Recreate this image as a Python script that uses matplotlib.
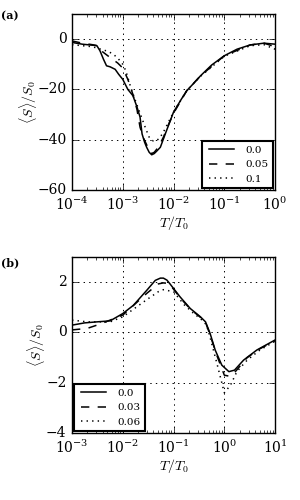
import numpy as np
import matplotlib.pyplot as plt

plt.style.use('classic')
plt.rcParams['font.family'] = 'serif'
plt.rcParams['font.serif'] = ['DejaVu Serif']
plt.rcParams['mathtext.fontset'] = 'cm'

# panel (a): log10(T/T0) and <S>/S0
a_logT_0 = [-4.0, -3.8, -3.6, -3.51, -3.45, -3.38, -3.32, -3.25, -3.15, -3.08, -3.0,
            -2.9, -2.8, -2.72, -2.66, -2.62, -2.57, -2.53, -2.48, -2.43, -2.38, -2.33,
            -2.26, -2.15, -2.0, -1.85, -1.74, -1.6, -1.47, -1.25, -1.0, -0.75, -0.49,
            -0.22, 0.0]
a_S_0 = [-1.3, -2.0, -2.4, -2.6, -4.6, -8.0, -10.6, -11.0, -12.0, -14.0, -16.0,
         -20.0, -22.5, -27.0, -31.0, -37.7, -41.0, -43.0, -45.0, -46.0, -45.5, -44.5,
         -43.0, -37.0, -29.0, -24.0, -20.5, -17.5, -14.6, -10.3, -6.6, -4.0, -2.3,
         -1.6, -2.0]

a_logT_05 = [-4.0, -3.8, -3.6, -3.5, -3.4, -3.25, -3.1, -3.0, -2.9, -2.8, -2.72,
             -2.66, -2.6, -2.53, -2.48, -2.43, -2.38, -2.3, -2.2, -2.1, -2.0, -1.74,
             -1.47, -1.0, -0.49, -0.22, 0.0]
a_S_05 = [-0.7, -1.6, -2.2, -2.6, -5.0, -7.3, -9.5, -11.5, -16.0, -22.0, -28.0,
          -35.0, -39.0, -42.0, -44.5, -45.5, -45.0, -43.0, -39.0, -34.0, -29.5, -20.5,
          -14.6, -6.6, -2.3, -1.6, -3.0]

a_logT_1 = [-4.0, -3.8, -3.6, -3.45, -3.3, -3.2, -3.1, -3.0, -2.94, -2.84, -2.75,
            -2.65, -2.55, -2.47, -2.4, -2.35, -2.28, -2.2, -2.1, -2.0, -1.74, -1.47,
            -1.0, -0.49, -0.22, 0.0]
a_S_1 = [-2.2, -2.6, -3.0, -3.9, -4.8, -5.8, -7.5, -10.0, -12.6, -19.4, -24.5,
         -30.0, -35.5, -39.5, -40.5, -40.5, -39.5, -37.0, -33.0, -29.0, -20.5, -14.8,
         -6.8, -2.6, -2.2, -4.0]

# panel (b)
b_logT_0 = [-3.0, -2.75, -2.51, -2.25, -2.0, -1.79, -1.53, -1.36, -1.26, -1.2,
            -1.13, -1.07, -0.87, -0.67, -0.47, -0.37, -0.28, -0.18, -0.05, 0.09,
            0.2, 0.38, 0.64, 1.0]
b_S_0 = [0.29, 0.38, 0.42, 0.46, 0.75, 1.08, 1.67, 2.07, 2.16, 2.16,
         2.08, 1.93, 1.41, 0.95, 0.62, 0.42, -0.04, -0.7, -1.3, -1.56,
         -1.5, -1.1, -0.7, -0.3]

b_logT_03 = [-3.0, -2.7, -2.45, -2.0, -1.53, -1.3, -1.2, -1.1, -1.07, -0.87,
             -0.67, -0.47, -0.37, -0.28, -0.15, 0.0, 0.12, 0.2, 0.45, 0.7, 1.0]
b_S_03 = [0.1, 0.16, 0.33, 0.69, 1.55, 1.93, 1.97, 1.95, 1.9, 1.38,
          0.93, 0.6, 0.4, -0.1, -0.9, -1.7, -1.75, -1.6, -1.0, -0.65, -0.33]

b_logT_06 = [-3.0, -2.7, -2.25, -2.0, -1.53, -1.3, -1.2, -1.0, -0.79, -0.6,
             -0.47, -0.35, -0.28, -0.15, -0.05, 0.0, 0.12, 0.25, 0.45, 0.7, 1.0]
b_S_06 = [0.49, 0.42, 0.42, 0.62, 1.3, 1.62, 1.7, 1.62, 1.1, 0.75,
          0.55, 0.3, -0.2, -1.2, -2.0, -2.4, -2.1, -1.55, -1.1, -0.7, -0.35]

fig = plt.figure(figsize=(3, 5), dpi=100)
fig.patch.set_facecolor('white')
ax1 = fig.add_axes([0.24, 0.62, 0.677, 0.352])
ax2 = fig.add_axes([0.24, 0.134, 0.677, 0.352])


def style(ax):
    ax.set_xscale('log')
    ax.grid(True, color='black', linestyle=':', linewidth=0.7)
    ax.tick_params(which='both', direction='in', top=True, right=True, labelsize=10)
    ax.tick_params(which='major', length=4)
    ax.tick_params(which='minor', length=2)
    ax.set_xlabel(r'$T/T_0$', fontsize=10, labelpad=1)
    ax.set_ylabel(r'$\langle S\rangle/S_0$', fontsize=10, labelpad=-1)


ax1.plot(10 ** np.array(a_logT_0), a_S_0, 'k-', lw=1.1, label='0.0')
ax1.plot(10 ** np.array(a_logT_05), a_S_05, 'k--', lw=1.1, label='0.05')
ax1.plot(10 ** np.array(a_logT_1), a_S_1, 'k:', lw=1.1, label='0.1')
style(ax1)
ax1.set_xlim(1e-4, 1)
ax1.set_ylim(-60, 10)
ax1.set_yticks([-60, -40, -20, 0])
ax1.legend(loc='lower right', fontsize=7.5, handlelength=3, borderaxespad=0.2,
           fancybox=False).get_frame().set_linewidth(1.5)

ax2.plot(10 ** np.array(b_logT_0), b_S_0, 'k-', lw=1.1, label='0.0')
ax2.plot(10 ** np.array(b_logT_03), b_S_03, 'k--', lw=1.1, label='0.03')
ax2.plot(10 ** np.array(b_logT_06), b_S_06, 'k:', lw=1.1, label='0.06')
style(ax2)
ax2.set_xlim(1e-3, 10)
ax2.set_ylim(-4, 3)
ax2.set_yticks([-4, -2, 0, 2])
ax2.legend(loc='lower left', fontsize=7.5, handlelength=3, borderaxespad=0.2,
           fancybox=False).get_frame().set_linewidth(1.5)

fig.text(0.005, 0.962, '(a)', fontsize=8, fontweight='semibold')
fig.text(0.005, 0.468, '(b)', fontsize=8, fontweight='semibold')

fig.savefig('out.png', dpi=100, facecolor='white')
